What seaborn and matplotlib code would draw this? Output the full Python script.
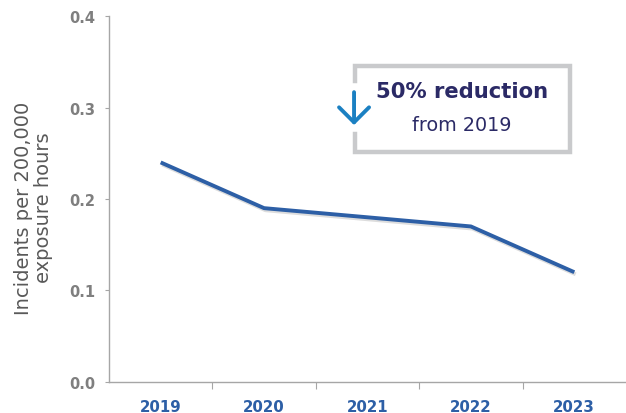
import matplotlib
matplotlib.use("Agg")
import matplotlib.pyplot as plt
import matplotlib.patheffects as pe
from matplotlib.ticker import FixedLocator
import seaborn as sns
import pandas as pd

years = ["2019", "2020", "2021", "2022", "2023"]
rates = [0.24, 0.19, 0.18, 0.17, 0.12]
y_ticks = [0.0, 0.1, 0.2, 0.3, 0.4]
callout_main = "50% reduction"
callout_sub = "from 2019"
y_label = "Incidents per 200,000\nexposure hours"

LINE = "#2d5fa6"
AXIS = "#a6a6a6"
NAVY = "#2b2a66"
ARROW = "#1b80c2"
BOX = "#c9cacc"

sns.set_theme(style="white")
plt.rcParams["font.family"] = ["DejaVu Sans"]

fig = plt.figure(figsize=(6.26, 4.14), dpi=100)
ax = fig.add_axes([0.1741, 0.0749, 0.8259, 0.884])

df = pd.DataFrame({"year": years, "rate": rates})
sns.lineplot(data=df, x="year", y="rate", ax=ax, color=LINE, linewidth=2.8,
             sort=False, solid_capstyle="butt",
             path_effects=[pe.SimpleLineShadow(offset=(1.0, -1.5), alpha=0.2, shadow_color="#555555"),
                           pe.Normal()])

ax.set_xlim(-0.5, 4.5)
ax.set_ylim(0, 0.4)

# y axis
ax.set_yticks(y_ticks)
ax.set_yticklabels([f"{v:.1f}" for v in y_ticks], fontsize=10.5, fontweight="bold", color="#7f7f7f")
ax.tick_params(axis="y", direction="out", length=3, width=0.8, color=AXIS, pad=7, left=True)

# x axis: labels centred on categories, ticks on category boundaries
ax.set_xticks(range(len(years)))
ax.set_xticklabels(years, fontsize=10.8, fontweight="bold", color=LINE)
ax.tick_params(axis="x", which="major", length=0, pad=12)
ax.xaxis.set_minor_locator(FixedLocator([0.5, 1.5, 2.5, 3.5]))
ax.tick_params(axis="x", which="minor", direction="out", length=5, width=0.8, color=AXIS, bottom=True)

ax.set_xlabel("")
ax.set_ylabel(y_label, fontsize=14, color="#595959", linespacing=1.05)
ax.yaxis.set_label_coords(-0.108, 0.478)

for s in ["top", "right"]:
    ax.spines[s].set_visible(False)
for s in ["left", "bottom"]:
    ax.spines[s].set_color(AXIS)
    ax.spines[s].set_linewidth(1.0)
ax.grid(False)

# callout frame with a gap on the left for the arrow
x0, x1 = 0.475, 0.892
yb, yt = 0.628, 0.864
gap_lo, gap_hi = 0.678, 0.823
frame = dict(color=BOX, linewidth=3.2, transform=ax.transAxes, clip_on=False,
             solid_capstyle="projecting", solid_joinstyle="miter")
ax.plot([x0, x0, x1, x1, x0, x0], [gap_hi, yt, yt, yb, yb, gap_lo], **frame)

ax.annotate("", xy=(0.474, 0.702), xytext=(0.474, 0.792), xycoords="axes fraction",
            arrowprops=dict(arrowstyle="->,head_length=0.9,head_width=0.9",
                            color=ARROW, lw=2.8, shrinkA=0, shrinkB=0))

ax.text(0.682, 0.779, callout_main, transform=ax.transAxes, ha="center", va="baseline",
        fontsize=15.2, fontweight="bold", color=NAVY)
ax.text(0.683, 0.689, callout_sub, transform=ax.transAxes, ha="center", va="baseline",
        fontsize=13.8, color=NAVY)

fig.savefig("out.png", dpi=100)
